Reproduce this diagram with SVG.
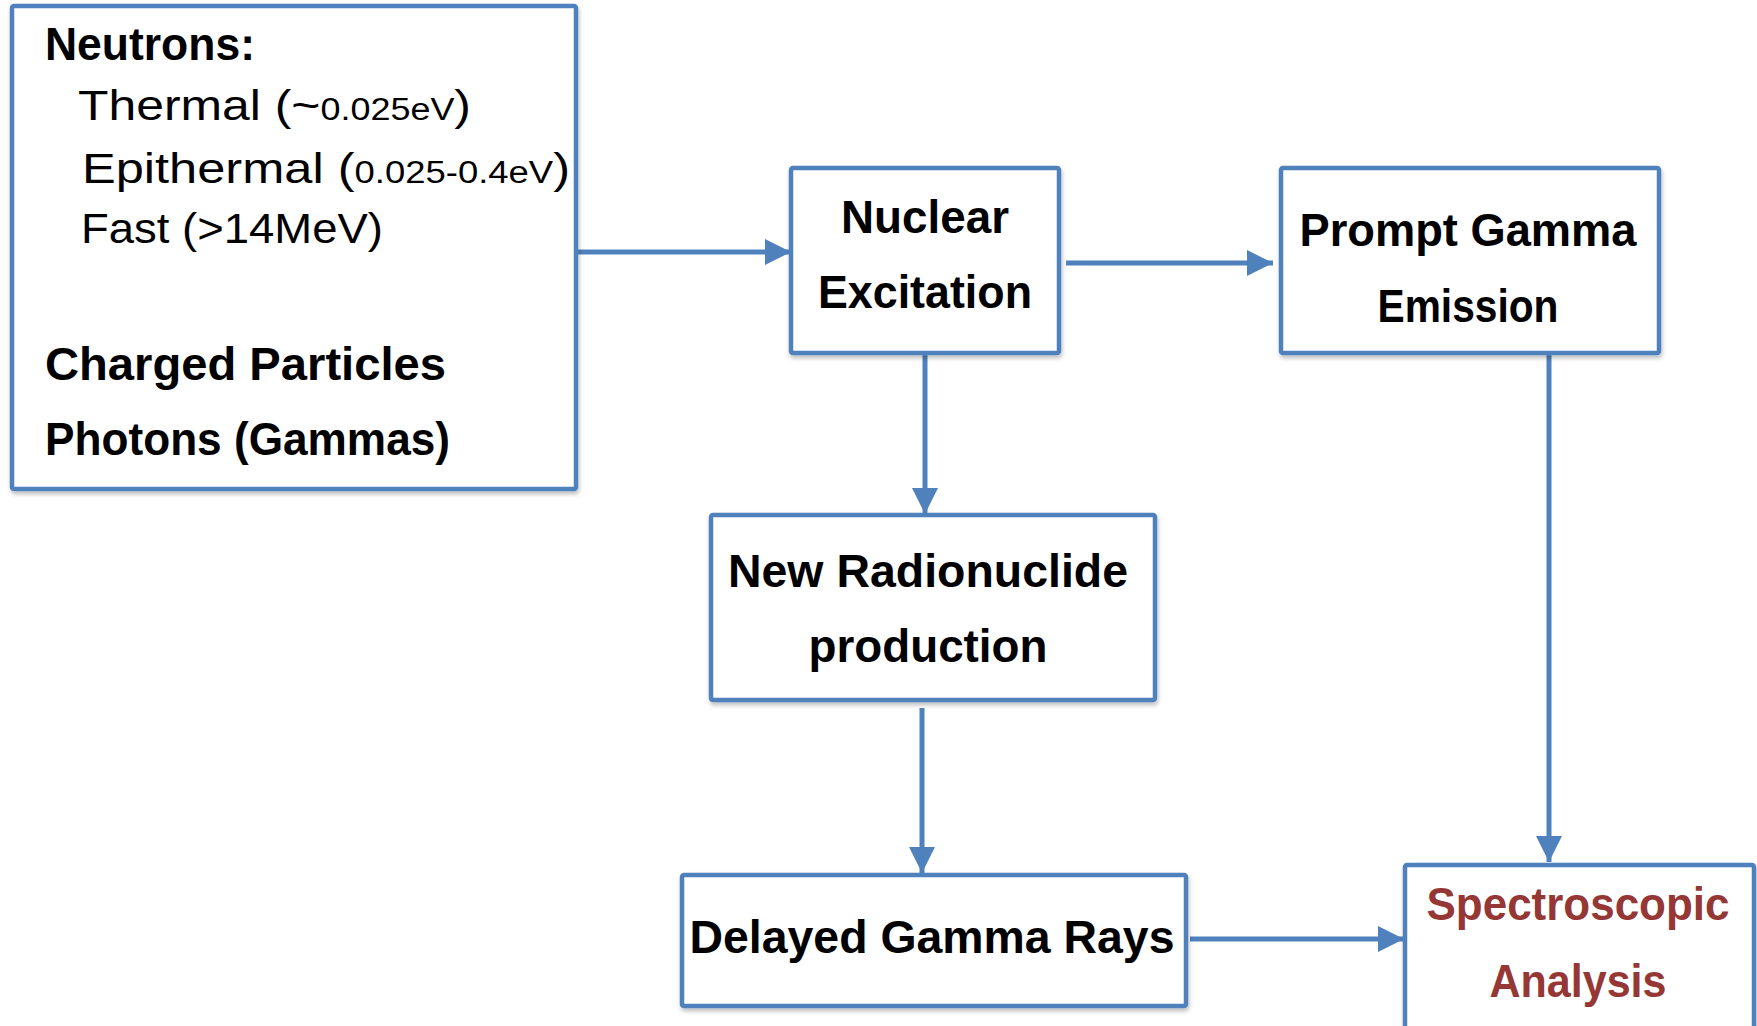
<svg xmlns="http://www.w3.org/2000/svg" width="1757" height="1026" viewBox="0 0 1757 1026">
<style>
.box{fill:#fff;stroke:#4F81BD;stroke-width:4.5;filter:url(#sh)}
.t{font-family:"Liberation Sans",Arial,sans-serif;font-weight:bold;font-size:46px;fill:#000}
.r{font-family:"Liberation Sans",Arial,sans-serif;font-size:43px;fill:#000}
.s{font-size:31px}
.red{fill:#953735}
.c{stroke:#4F81BD;stroke-width:5;fill:none;marker-end:url(#ah)}
</style>
<defs>
<filter id="sh" x="-5%" y="-5%" width="110%" height="115%">
<feDropShadow dx="1" dy="3" stdDeviation="2" flood-color="#000" flood-opacity="0.25"/>
</filter>
<marker id="ah" markerUnits="userSpaceOnUse" markerWidth="28" markerHeight="28" refX="26" refY="13" orient="auto">
<path d="M0,0 L26,13 L0,26 Z" fill="#4F81BD"/>
</marker>
</defs>
<g id="connectors">
<line class="c" x1="576" y1="252" x2="791" y2="252"/>
<line class="c" x1="1066" y1="263" x2="1273" y2="263"/>
<line class="c" x1="925" y1="354" x2="925" y2="514"/>
<line class="c" x1="1549" y1="354" x2="1549" y2="862"/>
<line class="c" x1="922" y1="708" x2="922" y2="873"/>
<line class="c" x1="1190" y1="939" x2="1404" y2="939"/>
</g>
<g id="sources">
<rect class="box" x="12" y="6" width="564" height="483" rx="2"/>
<text class="t" x="45" y="60" textLength="210" lengthAdjust="spacingAndGlyphs">Neutrons:</text>
<text class="r" x="78" y="120" textLength="393" lengthAdjust="spacingAndGlyphs">Thermal (~<tspan class="s">0.025eV</tspan>)</text>
<text class="r" x="82" y="183" textLength="488" lengthAdjust="spacingAndGlyphs">Epithermal (<tspan class="s">0.025-0.4eV</tspan>)</text>
<text class="r" x="81" y="243" textLength="302" lengthAdjust="spacingAndGlyphs">Fast (&gt;14MeV)</text>
<text class="t" x="45" y="380" textLength="401" lengthAdjust="spacingAndGlyphs">Charged Particles</text>
<text class="t" x="45" y="455" textLength="405" lengthAdjust="spacingAndGlyphs">Photons (Gammas)</text>
</g>
<g id="nuclear">
<rect class="box" x="791" y="168" width="268" height="185" rx="2"/>
<text class="t" x="925" y="233" text-anchor="middle" textLength="168" lengthAdjust="spacingAndGlyphs">Nuclear</text>
<text class="t" x="925" y="308" text-anchor="middle" textLength="214" lengthAdjust="spacingAndGlyphs">Excitation</text>
</g>
<g id="prompt">
<rect class="box" x="1281" y="168" width="378" height="185" rx="2"/>
<text class="t" x="1468" y="246" text-anchor="middle" textLength="337" lengthAdjust="spacingAndGlyphs">Prompt Gamma</text>
<text class="t" x="1468" y="322" text-anchor="middle" textLength="181" lengthAdjust="spacingAndGlyphs">Emission</text>
</g>
<g id="radionuclide">
<rect class="box" x="711" y="515" width="444" height="185" rx="2"/>
<text class="t" x="928" y="587" text-anchor="middle" textLength="400" lengthAdjust="spacingAndGlyphs">New Radionuclide</text>
<text class="t" x="928" y="662" text-anchor="middle" textLength="239" lengthAdjust="spacingAndGlyphs">production</text>
</g>
<g id="delayed">
<rect class="box" x="682" y="875" width="504" height="131" rx="2"/>
<text class="t" x="932" y="953" text-anchor="middle" textLength="485" lengthAdjust="spacingAndGlyphs">Delayed Gamma Rays</text>
</g>
<g id="spectroscopic">
<rect class="box" x="1405" y="865" width="349" height="175" rx="2"/>
<text class="t red" x="1578" y="920" text-anchor="middle" textLength="303" lengthAdjust="spacingAndGlyphs">Spectroscopic</text>
<text class="t red" x="1578" y="997" text-anchor="middle" textLength="177" lengthAdjust="spacingAndGlyphs">Analysis</text>
</g>
</svg>
